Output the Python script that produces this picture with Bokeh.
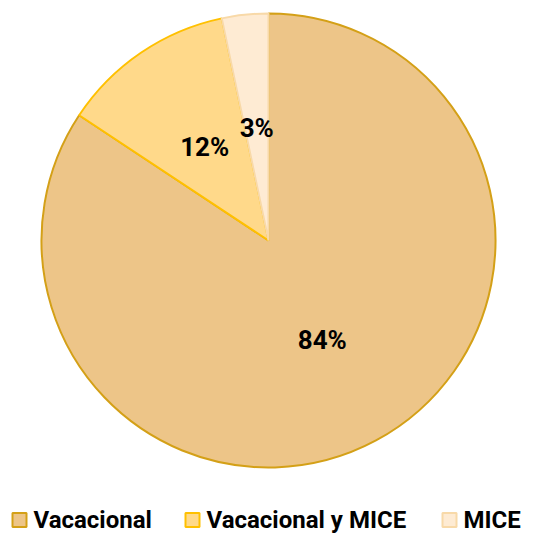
import numpy as np
from bokeh.plotting import figure
from bokeh.models import Range1d
from bokeh.core.properties import value
from bokeh.embed import file_html
from bokeh.resources import INLINE

categories = ["Vacacional", "Vacacional y MICE", "MICE"]
shares = [84.3, 12.4, 3.3]
labels = ["84%", "12%", "3%"]
fills = ["#EDC588", "#FFD98A", "#FEEBD3"]
borders = ["#D4A017", "#FFC000", "#F8D9A8"]

W, H = 540, 533
p = figure(width=W, height=H, x_range=Range1d(0, W), y_range=Range1d(0, H),
           output_backend="svg", toolbar_location=None, min_border=0)
p.axis.visible = False
p.grid.visible = False
p.outline_line_color = None
p.background_fill_color = "white"

cx, cy, R = 268, 293, 227
frac = np.array(shares) / sum(shares)
ends_cum = np.cumsum(frac)
starts_cum = ends_cum - frac
start = np.pi / 2 - 2 * np.pi * starts_cum
end = np.pi / 2 - 2 * np.pi * ends_cum
p.wedge(x=cx, y=cy, radius=R, start_angle=list(start), end_angle=list(end),
        direction="clock", fill_color=fills, line_color=borders, line_width=2)

mid = np.pi / 2 - 2 * np.pi * (starts_cum + frac / 2)
lx = cx + 0.5 * R * np.cos(mid)
ly = cy + 0.5 * R * np.sin(mid)
p.text(x=list(lx), y=list(ly), text=labels, text_font=value("Roboto"),
       text_font_style="bold", text_font_size="26px", text_align="center",
       text_baseline="middle", text_color="black")

# legend
leg_sq_x = [19, 192, 449]
leg_y = 13.5
p.scatter(x=leg_sq_x, y=[leg_y] * 3, marker="square", size=14, fill_color=fills,
          line_color=borders, line_width=2)
p.text(x=[x + 14 for x in leg_sq_x], y=[leg_y] * 3, text=categories,
       text_font=value("Roboto"), text_font_style="bold",
       text_font_size="24px", text_align="left", text_baseline="middle", text_color="black")

open("out.html", "w").write(file_html(p, INLINE))
